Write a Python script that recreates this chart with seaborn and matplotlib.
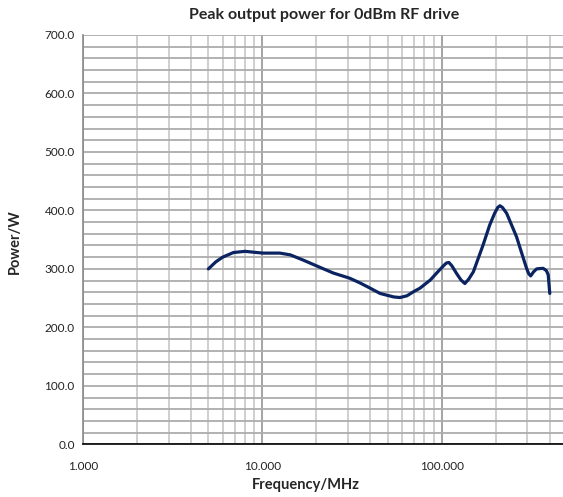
import numpy as np
import pandas as pd
import matplotlib
matplotlib.use("Agg")
import matplotlib.pyplot as plt
import matplotlib.ticker as mticker
import seaborn as sns

# values
freq_mhz = [5.0, 5.5, 6.0, 6.9, 8.0, 9.3, 10.1, 12.5, 14.3, 16.9, 20.1, 24.8,
            30.7, 35.0, 39.9, 45.3, 49.4, 54.0, 58.5, 64.0, 69.6, 75.6, 86.3,
            95.0, 102, 106, 109.6, 114, 121, 128, 134.5, 141, 150, 170, 185,
            197, 205, 211, 218, 230, 261, 285, 297, 305, 313, 325, 338, 367,
            383, 392, 400]
power_w = [300, 312, 320, 328, 330, 328, 327, 327, 324, 315, 305, 293,
           284, 276, 267, 258, 255, 252, 251, 254, 261, 267, 281,
           295, 305, 310, 311, 305, 292, 281, 275, 282, 295, 341, 375,
           395, 405, 408, 405, 395, 355, 318, 301, 292, 288, 295, 300, 301,
           297, 290, 258]

title = "Peak output power for 0dBm RF drive"
x_label = "Frequency/MHz"
y_label = "Power/W"

df = pd.DataFrame({"freq": freq_mhz, "power": power_w})

sns.set_style("white")
plt.rcParams["font.family"] = ["Lato", "DejaVu Sans"]

fig = plt.figure(figsize=(5.63, 4.97), dpi=100)
ax = fig.add_axes([83 / 563, 1 - 444.3 / 497, 1 - 83 / 563, (444.3 - 35) / 497])

sns.lineplot(data=df, x="freq", y="power", color="#0b2461", linewidth=2.3,
             ax=ax, sort=False)

ax.set_xscale("log")
ax.set_xlim(1, 474)
ax.set_ylim(0, 700)

# gridlines like the spreadsheet chart
ax.xaxis.set_major_locator(mticker.LogLocator(base=10, numticks=10))
ax.xaxis.set_minor_locator(mticker.LogLocator(base=10, subs=np.arange(2, 10), numticks=20))
ax.xaxis.set_major_formatter(mticker.FuncFormatter(lambda v, p: f"{v:.3f}"))
ax.xaxis.set_minor_formatter(mticker.NullFormatter())
ax.yaxis.set_major_locator(mticker.MultipleLocator(100))
ax.yaxis.set_minor_locator(mticker.MultipleLocator(20))
ax.yaxis.set_major_formatter(mticker.FuncFormatter(lambda v, p: f"{v:.1f}"))

ax.grid(which="minor", axis="x", color="#cccccc", linewidth=1.3)
ax.grid(which="major", axis="x", color="#8c8c8c", linewidth=1.1)
ax.grid(which="both", axis="y", color="#acacac", linewidth=1.3)
ax.set_axisbelow(True)

for s in ["top", "right"]:
    ax.spines[s].set_visible(False)
ax.spines["left"].set_color("#8a8a8a")
ax.spines["left"].set_linewidth(1.2)
ax.spines["bottom"].set_color("#000000")
ax.spines["bottom"].set_linewidth(1.2)

ax.tick_params(axis="x", which="major", direction="out", length=3, width=1,
               color="#000000", pad=9, labelsize=8.5, labelcolor="#222222")
ax.tick_params(axis="x", which="minor", length=0)
ax.tick_params(axis="y", which="major", direction="out", length=4, width=1,
               color="#8a8a8a", pad=2, labelsize=8.5, labelcolor="#222222")
ax.tick_params(axis="y", which="minor", length=0)

ax.set_xlabel("")
ax.set_ylabel("")
fig.text(306 / 563, 1 - 485 / 497, x_label, ha="center", va="center",
         fontsize=10.5, fontweight="bold")
fig.text(15 / 563, 1 - 242 / 497, y_label, ha="center", va="center",
         rotation=90, fontsize=10.5, fontweight="bold")
fig.text(324 / 563, 1 - 15 / 497, title, ha="center", va="center",
         fontsize=11.5, fontweight="bold")

fig.savefig("out.png", dpi=100)
